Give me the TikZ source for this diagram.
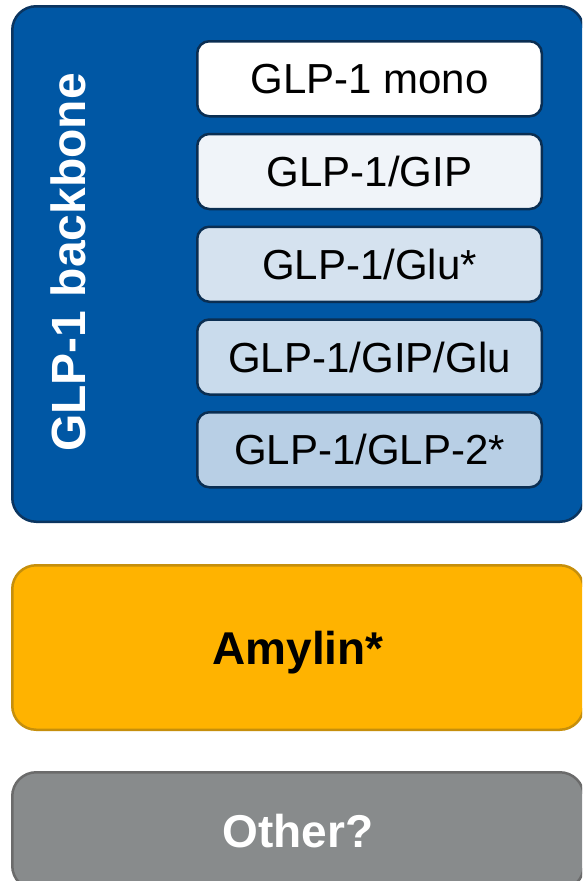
\documentclass[tikz,border=0pt]{standalone}
\usepackage{fontspec}
\setmainfont{Liberation Sans}
\usepackage{xcolor}
\usetikzlibrary{positioning}
\definecolor{backbonefill}{HTML}{0057A4}
\definecolor{backboneline}{HTML}{0B3560}
\definecolor{agonistline}{HTML}{0A2E52}
\definecolor{gipfill}{HTML}{F0F4F9}
\definecolor{glufill}{HTML}{D5E2EF}
\definecolor{triplefill}{HTML}{C9DBEC}
\definecolor{glptwofill}{HTML}{B8CFE5}
\definecolor{amylinfill}{HTML}{FFB300}
\definecolor{amylinline}{HTML}{C68F0C}
\definecolor{otherfill}{HTML}{888B8C}
\definecolor{otherline}{HTML}{6B6B6B}
\tikzset{
  family/.style  = {rectangle, line width=2.5pt, rounded corners=24pt,
                    minimum width=571.5pt, text depth=0pt,
                    font=\fontsize{46}{55}\selectfont\bfseries},
  agonist/.style = {rectangle, draw=agonistline, line width=2.5pt,
                    rounded corners=12pt, text centered, text depth=0pt,
                    minimum width=344.5pt, minimum height=75pt,
                    font=\fontsize{42}{50}\selectfont},
}

\begin{document}
\begin{tikzpicture}[x=1pt, y=1pt, node distance=15.25pt]
  \clip (0,0) rectangle (582,-881);
  \fill[white] (0,0) rectangle (582,-881);

  % GLP-1 backbone family
  \node[family, draw=backboneline, fill=backbonefill,
        minimum height=515.5pt] (backbone) at (298,-264) {};
  \node[family, text=white, minimum width=0pt, rotate=90,
        font=\fontsize{48}{57}\selectfont\bfseries]
        (backlabel) at (68.5,-262.5) {GLP-1 backbone};

  % agonists on the backbone
  \node[agonist, fill=white]        (mono)   at (369.5,-78.75) {GLP-1 mono};
  \node[agonist, fill=gipfill,    below=of mono]   (gip)    {GLP-1/GIP};
  \node[agonist, fill=glufill,    below=of gip]    (glu)    {GLP-1/Glu*};
  \node[agonist, fill=triplefill, below=of glu]    (triple) {GLP-1/GIP/Glu};
  \node[agonist, fill=glptwofill, below=of triple] (glptwo) {GLP-1/GLP-2*};

  % other families
  \node[family, draw=amylinline, fill=amylinfill,
        minimum height=164.5pt] (amylin) at (298,-647.5) {Amylin*};
  \node[family, draw=otherline, fill=otherfill, text=white,
        minimum height=117.5pt] (other) at (298,-831) {Other?};
\end{tikzpicture}
\end{document}
